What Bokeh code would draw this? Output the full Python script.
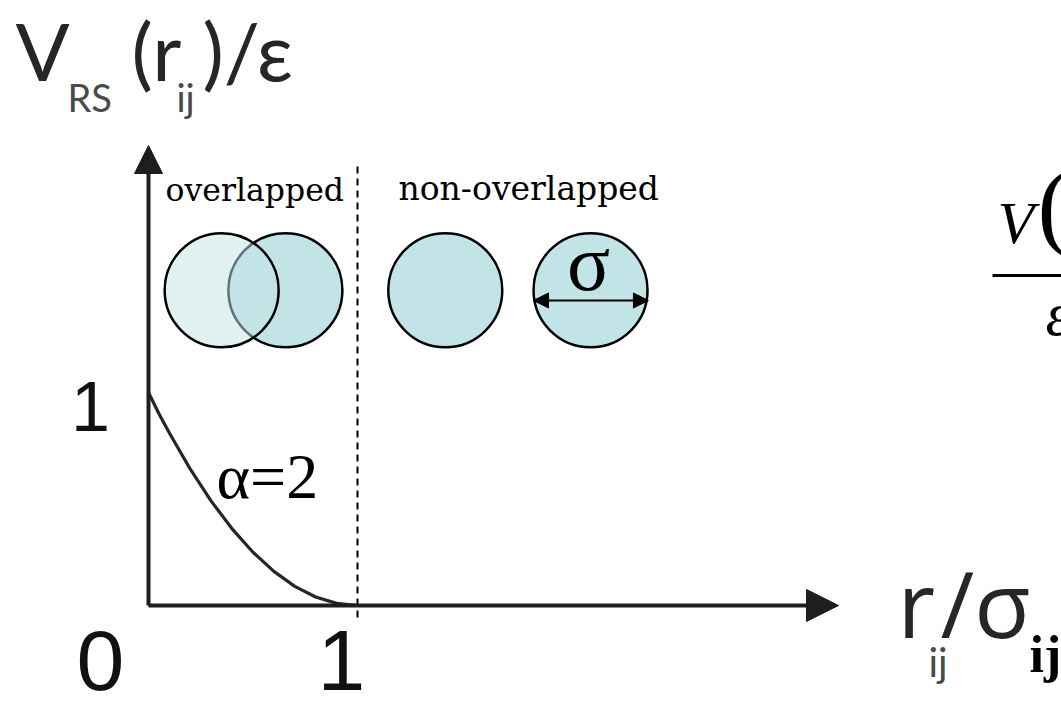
from bokeh.plotting import figure
from bokeh.models import Range1d, Label, Arrow, NormalHead
from bokeh.embed import file_html
from bokeh.resources import INLINE

# Repulsive-step potential V_RS(r)/eps for alpha = 2, read along r/sigma
r_vals = [0.0, 0.05, 0.1, 0.2, 0.3, 0.4, 0.5, 0.6, 0.7, 0.8, 0.9, 1.0]
v_vals = [1.0, 0.90, 0.81, 0.64, 0.49, 0.36, 0.25, 0.16, 0.09, 0.04, 0.01, 0.0]

# Particle sketches: overlapped pair, then two isolated particles
pair_x = [0.35, 0.655]
single_x = [1.42, 2.115]
particle_y = 1.48
sigma_span = [1.842, 2.392]   # diameter arrow inside the last particle
sigma_y = 1.432

cutoff_r = 1.0
tick_x_values = [0, 1]
tick_x_labels = ["0", "1"]
tick_y_values = [1]
tick_y_labels = ["1"]

W, H = 1061, 712
# pixel geometry of the axes frame
X0_PX, Y0_PX = 148, 605
PX_PER_X, PX_PER_Y = 209, 213


def dx(px):
    return (px - X0_PX) / PX_PER_X


def dy(py):
    return (Y0_PX - py) / PX_PER_Y


p = figure(width=W, height=H, x_range=Range1d(dx(0), dx(W)), y_range=Range1d(dy(H), dy(0)),
           x_axis_type=None, y_axis_type=None, toolbar_location=None, output_backend="svg",
           min_border=0, outline_line_color=None)
p.background_fill_color = "white"
p.border_fill_color = "white"
p.grid.visible = False

INK = "#1e1e1e"

# cutoff at r = sigma
p.segment(x0=[cutoff_r], y0=[dy(617)], x1=[cutoff_r], y1=[dy(163)],
          line_color="black", line_width=2, line_dash="7 5")

# axes with arrow heads
p.add_layout(Arrow(end=NormalHead(size=28, fill_color=INK, line_color=INK),
                   x_start=0, y_start=0, x_end=0, y_end=dy(145),
                   line_width=4, line_color=INK))
p.add_layout(Arrow(end=NormalHead(size=32, fill_color=INK, line_color=INK),
                   x_start=0, y_start=0, x_end=dx(838), y_end=0,
                   line_width=4, line_color=INK))

# potential curve
p.line(r_vals, v_vals, line_width=3.2, line_color="#262626")

# particles
FILL = "#c3e4e6"
p.scatter([pair_x[1]], [particle_y], size=114, marker="circle",
          fill_color=FILL, line_color="black", line_width=2.5)
p.scatter([pair_x[0]], [particle_y], size=114, marker="circle",
          fill_color=FILL, fill_alpha=0.5, line_color="black", line_width=2.5)
p.scatter(single_x, [particle_y] * len(single_x), size=114, marker="circle",
          fill_color=FILL, line_color="black", line_width=2.5)

p.add_layout(Arrow(start=NormalHead(size=15, fill_color="black", line_color="black"),
                   end=NormalHead(size=15, fill_color="black", line_color="black"),
                   x_start=sigma_span[0], y_start=sigma_y, x_end=sigma_span[1], y_end=sigma_y,
                   line_width=2, line_color="black"))

# Label anchors sit above the glyph baseline by about this share of the font size
BASE_SHIFT = 0.38


def label(px, py, text, font, size, color=INK, style="normal", align="left"):
    p.add_layout(Label(x=dx(px), y=dy(py - BASE_SHIFT * size), text=text, text_font=font,
                       text_font_size=f"{size}px", text_color=color,
                       text_font_style=style, text_align=align,
                       text_baseline="alphabetic"))


SERIF = "Liberation Serif"
SLAB = "DejaVu Serif"
SANS = "Liberation Sans"
HUM = "Lato"
HUM2 = "Open Sans"

label(588, 293, "σ", SERIF, 80, color="black", align="center")
label(165, 201, "overlapped", SLAB, 31.5, color="black")
label(398, 201, "non-overlapped", SLAB, 33, color="black")
label(216, 500, "α=2", SERIF, 64, color="black")

# tick labels
label(100, 693, tick_x_labels[0], SANS, 86, color="#111111", align="center")
label(341, 693, tick_x_labels[1], SANS, 86, color="#111111", align="center")
label(90, 433, tick_y_labels[0], SANS, 70, color="#111111", align="center")

# y-axis title  V_RS(r_ij)/eps
label(15, 80, "V", HUM, 80, color="#262626")
label(67, 111, "RS", HUM, 38, color="#4a4a4a")
label(131, 80, "(r", HUM, 80, color="#262626")
label(176, 111, "ij", HUM, 38, color="#4a4a4a")
label(202, 80, ")/ε", HUM, 80, color="#262626")

# x-axis title  r_ij/sigma_ij
label(897, 637, "r", HUM2, 92, color="#262626")
label(928, 677, "ij", HUM, 40, color="#4a4a4a")
label(940, 637, "/σ", HUM2, 92, color="#262626")
label(1029, 674, "ij", SERIF, 52, color="black", style="bold")

# formula at the right edge: V( ... ) / eps
label(997, 245, "V", SERIF, 60, color="black", style="italic")
label(1037, 242, "(", SERIF, 98, color="black")
p.segment(x0=[dx(992)], y0=[dy(275)], x1=[dx(1075)], y1=[dy(275)],
          line_color="black", line_width=3)
label(1045, 337, "ε", SERIF, 62, color="black", style="italic")

open("out.html", "w").write(file_html(p, INLINE))
